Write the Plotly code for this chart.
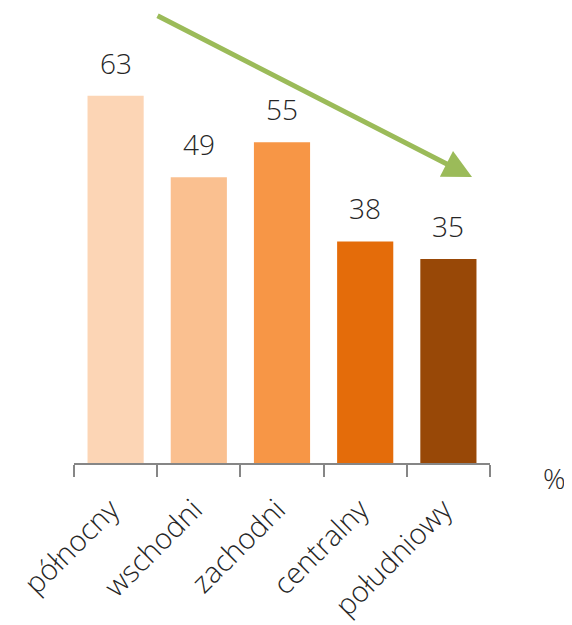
import plotly.graph_objects as go

categories = ["północny", "wschodni", "zachodni", "centralny", "południowy"]
values = [63, 49, 55, 38, 35]
colors = ["#FCD5B5", "#FAC090", "#F79646", "#E46C0A", "#984807"]

FONT = "Open Sans"
TXT = "#262626"

# page body adds an 8px offset; layout values are in figure pixels
L, T, PW, PH = 66, 2, 416, 453
PXU = 5.83  # pixels per unit on y

fig = go.Figure()
fig.add_trace(go.Bar(
    x=categories, y=values, marker=dict(color=colors, line=dict(width=0)),
    width=0.675, hoverinfo="skip",
))

for c, v in zip(categories, values):
    fig.add_annotation(x=c, y=v, text=str(v), showarrow=False, yanchor="bottom",
                       yshift=12, font=dict(family=FONT, size=28, color=TXT, weight=300))

# trend arrow
fig.add_annotation(x=4.284, y=49.06, ax=0.486, ay=76.84, xref="x", yref="y",
                   axref="x", ayref="y", text="", showarrow=True,
                   arrowhead=2, arrowsize=1.15, arrowwidth=5, arrowcolor="#9BBB59",
                   standoff=0, startstandoff=0)

fig.add_annotation(xref="paper", yref="paper", x=(546 - L) / PW, y=-(470 - 455) / PH,
                   xanchor="center", yanchor="middle", text="%", showarrow=False,
                   font=dict(family=FONT, size=28, color=TXT, weight=300))

fig.update_layout(
    width=572, height=625,
    margin=dict(l=L, r=572 - L - PW, t=T, b=625 - T - PH, autoexpand=False),
    paper_bgcolor="white", plot_bgcolor="white",
    showlegend=False,
    xaxis=dict(
        type="category", range=[-0.5, 4.5], tickson="boundaries",
        ticks="outside", ticklen=12, tickwidth=2, tickcolor="#868686",
        showline=True, linecolor="#868686", linewidth=2,
        tickangle=-45, showgrid=False, automargin=False,
        ticklabelstandoff=16, ticklabelshift=-5,
        tickfont=dict(family=FONT, size=29, color=TXT, weight=300),
    ),
    yaxis=dict(visible=False, range=[0, PH / PXU], showgrid=False, zeroline=False),
)

fig.write_html("out.html")
